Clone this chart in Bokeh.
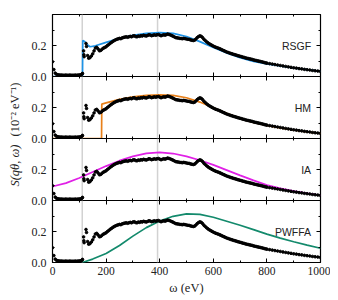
import numpy as np
from math import pi
from bokeh.plotting import figure
from bokeh.models import Range1d, LinearAxis, FixedTicker, Span, Label, PrintfTickFormatter
from bokeh.layouts import column, row
from bokeh.embed import file_html
from bokeh.resources import INLINE

# ---------------- experimental data (black dots) ----------------
omega_low = np.arange(0, 115, 5)
s_low = [0.095, 0.045, 0.022, 0.014, 0.011, 0.010, 0.009, 0.009, 0.008, 0.008,
         0.009, 0.008, 0.008, 0.009, 0.008, 0.008, 0.008, 0.009, 0.008, 0.009,
         0.010, 0.011, 0.015]
omega_edge = [112, 116, 117, 118, 125, 127, 131]
s_edge = [0.02, 0.165, 0.14, 0.128, 0.213, 0.194, 0.135]
omega_main = np.arange(135, 805, 5)
s_main = [0.118, 0.122, 0.132, 0.146, 0.165, 0.184, 0.188, 0.178, 0.166, 0.168,
          0.176, 0.183, 0.187, 0.192, 0.2, 0.206, 0.214, 0.22, 0.226, 0.232,
          0.236, 0.24, 0.243, 0.246, 0.244, 0.249, 0.252, 0.254, 0.256, 0.253,
          0.256, 0.259, 0.256, 0.261, 0.263, 0.258, 0.256, 0.261, 0.259, 0.263,
          0.261, 0.266, 0.263, 0.261, 0.265, 0.269, 0.267, 0.263, 0.266, 0.269,
          0.266, 0.269, 0.271, 0.267, 0.263, 0.266, 0.269, 0.267, 0.27, 0.274,
          0.271, 0.268, 0.264, 0.26, 0.255, 0.251, 0.249, 0.248, 0.246, 0.245,
          0.244, 0.246, 0.244, 0.242, 0.24, 0.239, 0.236, 0.234, 0.232, 0.234,
          0.242, 0.251, 0.258, 0.262, 0.259, 0.251, 0.24, 0.232, 0.224, 0.217,
          0.211, 0.206, 0.201, 0.196, 0.192, 0.188, 0.185, 0.182, 0.178, 0.174,
          0.17, 0.166, 0.162, 0.158, 0.155, 0.152, 0.149, 0.146, 0.143, 0.141,
          0.138, 0.135, 0.133, 0.13, 0.128, 0.125, 0.123, 0.12, 0.118, 0.116,
          0.114, 0.112, 0.11, 0.107, 0.105, 0.103, 0.101, 0.099, 0.097, 0.095,
          0.093, 0.09, 0.088, 0.086]
omega_tail = np.arange(810, 1001, 10)
s_tail = [0.083, 0.08, 0.077, 0.074, 0.071, 0.068, 0.065, 0.062, 0.059, 0.056,
          0.054, 0.051, 0.049, 0.046, 0.044, 0.042, 0.039, 0.037, 0.035, 0.033]

omega_data = list(omega_low) + omega_edge + list(omega_main) + list(omega_tail)
s_data = s_low + s_edge + s_main + s_tail

# ---------------- model curves ----------------
omega_rsgf = [0, 111, 112, 113, 120, 130, 140, 160, 200, 250, 300, 350, 400, 450,
              500, 550, 600, 650, 700, 750, 800, 850, 900, 950, 1000]
s_rsgf = [0, 0, 0, 0.232, 0.226, 0.205, 0.192, 0.198, 0.22, 0.246, 0.266, 0.278,
          0.283, 0.278, 0.258, 0.225, 0.187, 0.152, 0.122, 0.098, 0.082, 0.068,
          0.055, 0.044, 0.034]
omega_hm = [0, 183, 184, 200, 250, 300, 350, 400, 450, 500, 550, 600, 650, 700,
            750, 800, 850, 900, 950, 1000]
s_hm = [0, 0, 0.222, 0.23, 0.252, 0.268, 0.278, 0.282, 0.278, 0.263, 0.235, 0.198,
        0.162, 0.13, 0.104, 0.084, 0.068, 0.055, 0.043, 0.033]
omega_ia = [0, 50, 100, 150, 200, 250, 300, 350, 400, 450, 500, 550, 600, 650,
            700, 750, 800, 850, 900, 950, 1000]
s_ia = [0.09, 0.112, 0.145, 0.184, 0.222, 0.257, 0.285, 0.304, 0.311, 0.303,
        0.285, 0.26, 0.23, 0.196, 0.162, 0.13, 0.1, 0.078, 0.06, 0.046, 0.034]
omega_pw = [111, 150, 200, 250, 300, 350, 400, 450, 500, 550, 600, 650, 700, 750,
            800, 850, 900, 950, 1000]
s_pw = [0, 0.022, 0.058, 0.11, 0.17, 0.225, 0.268, 0.298, 0.314, 0.31, 0.292,
        0.266, 0.24, 0.212, 0.183, 0.157, 0.134, 0.112, 0.092]

panel_names = ["RSGF", "HM", "IA", "PWFFA"]
panel_colors = ["#1e93e6", "#e8801a", "#e020e6", "#138a6c"]
panel_x = [omega_rsgf, omega_hm, omega_ia, omega_pw]
panel_y = [s_rsgf, s_hm, s_ia, s_pw]

edge_lines = [111, 392]
x_ticks = [0, 200, 400, 600, 800, 1000]
x_minor = [100, 300, 500, 700, 900]
y_ticks = [0.0, 0.2]
y_minor = [0.1, 0.3]

SERIF = "Liberation Serif"
FRAME_H = 62
TOP_B = 14
MID_B = 8
LAST_B = 36
LAB_W = 28


def style_axis(ax, show):
    ax.major_tick_in = 4
    ax.major_tick_out = 0
    ax.minor_tick_in = 2
    ax.minor_tick_out = 0
    ax.axis_line_color = None
    ax.major_tick_line_color = "black"
    ax.minor_tick_line_color = "black"
    ax.major_tick_line_width = 1
    ax.minor_tick_line_width = 1
    if show:
        ax.major_label_text_font = SERIF
        ax.major_label_text_font_size = "12px"
        ax.major_label_text_color = "#222222"
        ax.major_label_standoff = 6
    else:
        ax.major_label_text_font_size = "1px"
        ax.major_label_text_color = None
        ax.major_label_standoff = 0


panels = []
n = len(panel_names)
for i in range(n):
    first = i == 0
    last = i == n - 1
    top_b = TOP_B if first else 0
    bot_b = LAST_B if last else MID_B
    p = figure(width=302, height=top_b + FRAME_H + bot_b,
               x_range=Range1d(0, 1000), y_range=Range1d(0, 0.4),
               output_backend="svg", toolbar_location=None,
               x_axis_location=None, y_axis_location=None,
               min_border_left=23, min_border_right=10,
               min_border_top=top_b, min_border_bottom=bot_b,
               margin=(0, 0, 0 if last else -MID_B, 0))
    p.grid.visible = False
    p.outline_line_color = "black"
    p.outline_line_width = 1.2
    p.background_fill_color = None
    p.border_fill_color = None

    xt = FixedTicker(ticks=x_ticks, minor_ticks=x_minor)
    yt = FixedTicker(ticks=y_ticks, minor_ticks=y_minor)

    bx = LinearAxis(ticker=xt)
    style_axis(bx, last)
    if last:
        bx.major_label_text_font_size = "11.5px"
        bx.major_label_standoff = 4
        bx.axis_label = "ω (eV)"
        bx.axis_label_text_font = SERIF
        bx.axis_label_text_font_style = "normal"
        bx.axis_label_text_font_size = "12.5px"
        bx.axis_label_text_color = "#222222"
        bx.axis_label_standoff = 3
    p.add_layout(bx, "below")
    tx = LinearAxis(ticker=xt)
    style_axis(tx, False)
    p.add_layout(tx, "above")
    ly = LinearAxis(ticker=yt, formatter=PrintfTickFormatter(format="%.1f"))
    style_axis(ly, True)
    p.add_layout(ly, "left")
    ry = LinearAxis(ticker=yt)
    style_axis(ry, False)
    p.add_layout(ry, "right")

    for loc in edge_lines:
        p.add_layout(Span(location=loc, dimension="height", line_color="#d2d2d2",
                          line_width=1.5, level="underlay"))

    p.line(panel_x[i], panel_y[i], line_color=panel_colors[i], line_width=1.7)
    p.scatter(omega_data, s_data, size=2.6, color="black")

    p.add_layout(Label(x=965, y=0.2, text=panel_names[i], text_align="right",
                       text_baseline="middle", text_font="Liberation Sans",
                       text_font_size="10.5px", text_color="#222222"))
    panels.append(p)

# y-axis label column
TOTAL_H = TOP_B + n * FRAME_H + LAST_B
lab = figure(width=LAB_W, height=TOTAL_H, x_range=Range1d(0, LAB_W), y_range=Range1d(0, TOTAL_H),
             output_backend="svg", toolbar_location=None,
             x_axis_location=None, y_axis_location=None,
             min_border=0, outline_line_color=None)
lab.grid.visible = False
mid = TOTAL_H - (TOP_B + 2 * FRAME_H) - 2
lab.add_layout(Label(x=14, y=mid - 4, text="S(qθ, ω)", angle=pi / 2, text_align="right",
                     text_baseline="middle", text_font=SERIF, text_font_style="italic",
                     text_font_size="12.5px", text_color="#222222"))
lab.add_layout(Label(x=14, y=mid + 4, text="(10⁻² eV⁻¹)", angle=pi / 2, text_align="left",
                     text_baseline="middle", text_font=SERIF,
                     text_font_size="12.5px", text_color="#222222"))

layout = row(lab, column(*panels))
open("out.html", "w").write(file_html(layout, INLINE))
